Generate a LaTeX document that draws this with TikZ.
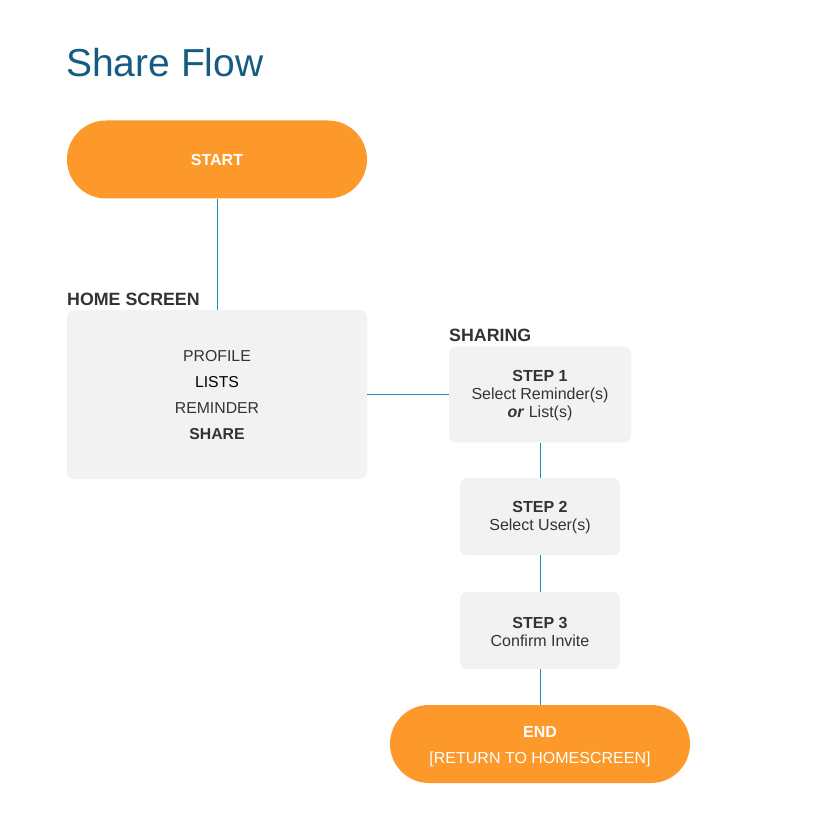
\documentclass[tikz,border=0pt]{standalone}
\usepackage{fontspec}
\setmainfont{Liberation Sans}
\definecolor{orng}{RGB}{253,152,42}
\definecolor{boxg}{RGB}{242,242,242}
\definecolor{lineb}{RGB}{22,142,190}
\definecolor{txt}{RGB}{51,51,51}
\definecolor{ttl}{RGB}{22,92,130}
\begin{document}
\begin{tikzpicture}[x=1pt,y=-1pt,
  pill/.style={fill=orng,rounded corners=39pt,minimum width=300pt,minimum height=78pt,inner sep=0pt,text=white,align=center,font=\fontsize{16}{26}\selectfont},
  graybox/.style={fill=boxg,rounded corners=7pt,inner sep=0pt,text=txt,align=center,font=\fontsize{16}{18}\selectfont},
  conn/.style={draw=lineb,line width=0.9pt},
  hdr/.style={anchor=base west,inner sep=0pt,text=txt,font=\fontsize{17.8}{20}\selectfont\bfseries}]
\useasboundingbox (0,0) rectangle (836,824);
\node[anchor=base west,inner sep=0pt,text=ttl,font=\fontsize{39}{44}\selectfont] (title) at (66,77) {Share Flow};
\node[pill] (start) at (217,159.5) {\bfseries START};
\node[hdr] (homelbl) at (67,305) {HOME SCREEN};
\node[graybox,minimum width=300pt,minimum height=169pt] (home) at (217,394.5) {};
\node[text=txt,align=center,inner sep=0pt,font=\fontsize{15.8}{26}\selectfont] (homelist) at (217,395.5) {PROFILE\\\textcolor{black}{LISTS}\\REMINDER\\\textbf{SHARE}};
\node[hdr] (sharelbl) at (449,341) {SHARING};
\node[graybox,minimum width=182pt,minimum height=96pt] (s1) at (540,394.5) {};
\node[text=txt,align=center,inner sep=0pt,font=\fontsize{16}{18}\selectfont] (s1t) at (540,396) {\textbf{STEP 1}\\Select Reminder(s)\\\textbf{\itshape or} List(s)};
\node[graybox,minimum width=160pt,minimum height=77pt] (s2) at (540,516.5) {};
\node[text=txt,align=center,inner sep=0pt,font=\fontsize{16}{18}\selectfont] (s2t) at (540,518) {\textbf{STEP 2}\\Select User(s)};
\node[graybox,minimum width=160pt,minimum height=77pt] (s3) at (540,630.5) {};
\node[text=txt,align=center,inner sep=0pt,font=\fontsize{16}{18}\selectfont] (s3t) at (540,632) {\textbf{STEP 3}\\Confirm Invite};
\node[pill] (end) at (540,744) {};
\node[text=white,align=center,inner sep=0pt,font=\fontsize{16}{26}\selectfont] (endt) at (540,746.5) {\textbf{END}\\{}[RETURN TO HOMESCREEN]};
\draw[conn] (start.south) -- (home.north);
\draw[conn] (home.east) -- (s1.west);
\draw[conn] (s1.south) -- (s2.north);
\draw[conn] (s2.south) -- (s3.north);
\draw[conn] (s3.south) -- (end.north);
\end{tikzpicture}
\end{document}
